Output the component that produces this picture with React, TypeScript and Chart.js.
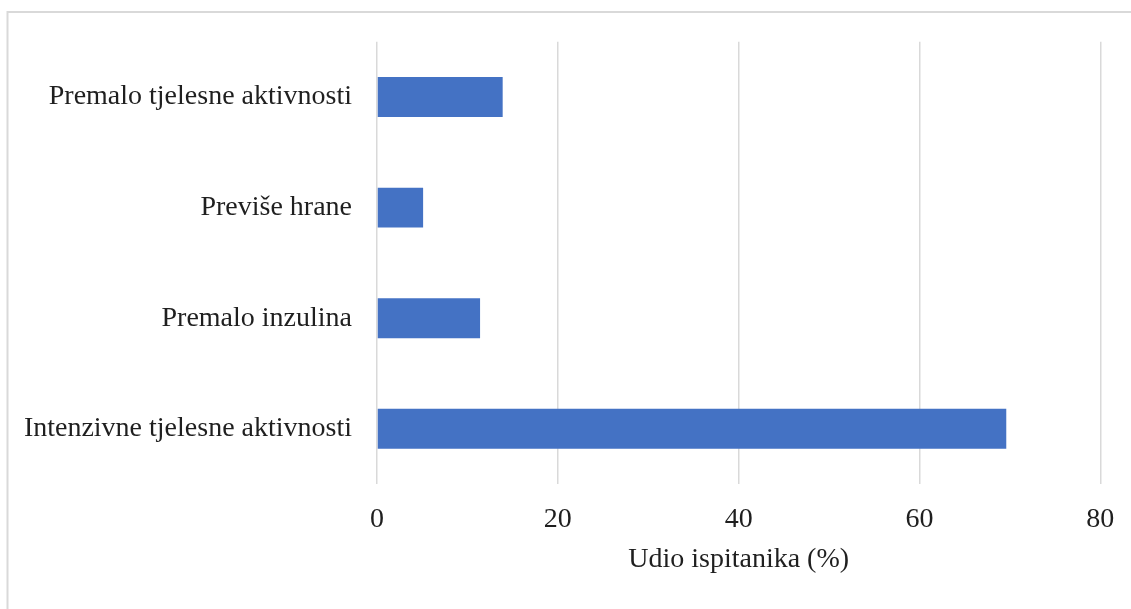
import React, { useEffect, useRef } from "react";
import { Chart, registerables } from "chart.js";

Chart.register(...registerables);

const categories: string[] = [
  "Premalo tjelesne aktivnosti",
  "Previše hrane",
  "Premalo inzulina",
  "Intenzivne tjelesne aktivnosti",
];
const shares: number[] = [13.9, 5.1, 11.4, 69.6];
const xTicks: number[] = [0, 20, 40, 60, 80];
const xTitle = "Udio ispitanika (%)";

const FONT = "'Liberation Serif', 'Times New Roman', serif";
const TEXT = "#1f1f1f";

const frame = {
  id: "frame",
  beforeDraw(chart: any) {
    const ctx = chart.ctx;
    ctx.save();
    ctx.strokeStyle = "#d9d9d9";
    ctx.lineWidth = 2;
    ctx.beginPath();
    ctx.moveTo(7.5, chart.height + 5);
    ctx.lineTo(7.5, 12);
    ctx.lineTo(chart.width + 5, 12);
    ctx.stroke();
    ctx.restore();
  },
};

export default function App() {
  const ref = useRef<HTMLCanvasElement | null>(null);
  useEffect(() => {
    if (!ref.current) return;
    const chart = new Chart(ref.current, {
      type: "bar",
      data: {
        labels: categories,
        datasets: [
          {
            data: shares,
            backgroundColor: "#4472C4",
            borderWidth: 0,
            barPercentage: 0.361,
            categoryPercentage: 1,
          },
        ],
      },
      options: {
        indexAxis: "y",
        responsive: false,
        animation: false,
        layout: { padding: { top: 41, right: 30.7, bottom: 0, left: 0 } },
        plugins: { legend: { display: false }, tooltip: { enabled: false } },
        scales: {
          x: {
            min: xTicks[0],
            max: xTicks[xTicks.length - 1],
            afterBuildTicks: (s: any) => {
              s.ticks = xTicks.map((v) => ({ value: v }));
            },
            afterFit: (s: any) => {
              s.height = 609 - 484;
              s.paddingLeft = 0;
              s.paddingRight = 0;
            },
            grid: { color: "#d9d9d9", lineWidth: 1.5, drawTicks: false },
            border: { display: false },
            ticks: {
              padding: 19,
              color: TEXT,
              font: { family: FONT, size: 28 },
            },
            title: {
              display: true,
              text: xTitle,
              color: TEXT,
              font: { family: FONT, size: 28 },
              padding: { top: 0, bottom: 33 },
            },
          },
          y: {
            afterFit: (s: any) => {
              s.width = 377;
            },
            grid: { display: false, drawTicks: false },
            border: { display: false },
            ticks: {
              padding: 25,
              color: TEXT,
              font: { family: FONT, size: 28 },
            },
          },
        },
      },
      plugins: [frame],
    });
    return () => chart.destroy();
  }, []);
  return (
    <canvas
      ref={ref}
      width={1131}
      height={609}
      style={{ position: "absolute", left: 0, top: 0, display: "block" }}
    />
  );
}
